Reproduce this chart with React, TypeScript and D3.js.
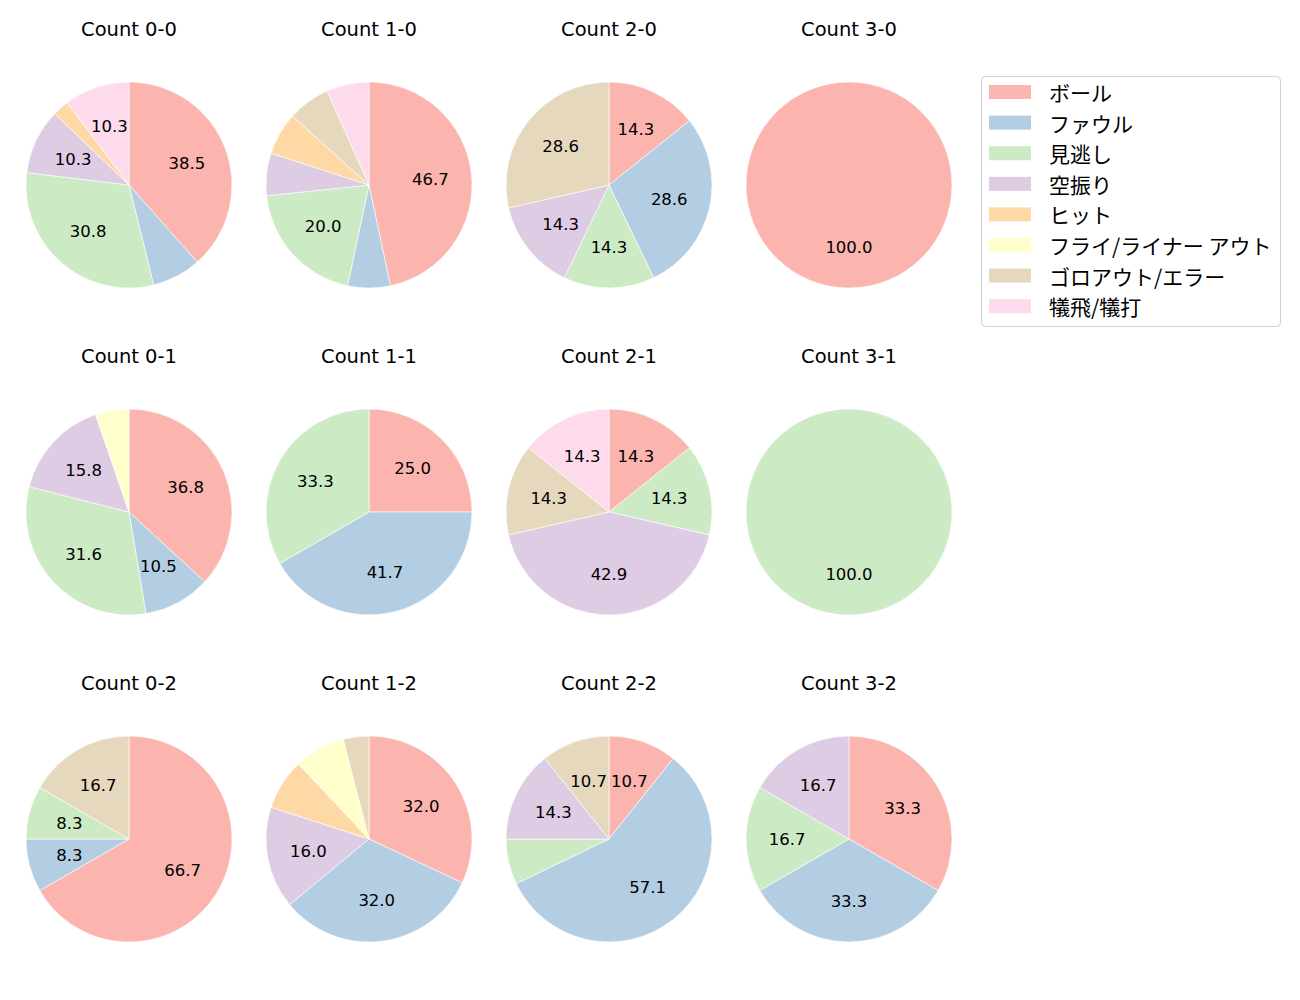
import React from "react";
import * as d3 from "d3";

const categories = ["ボール", "ファウル", "見逃し", "空振り", "ヒット", "フライ/ライナー アウト", "ゴロアウト/エラー", "犠飛/犠打"];
const colors = ["#fbb4ae", "#b3cde3", "#ccebc5", "#decbe4", "#fed9a6", "#ffffcc", "#e5d8bd", "#fddaec"];

const titles = [
  "Count 0-0", "Count 1-0", "Count 2-0", "Count 3-0",
  "Count 0-1", "Count 1-1", "Count 2-1", "Count 3-1",
  "Count 0-2", "Count 1-2", "Count 2-2", "Count 3-2",
];

// pitch counts per category (same order as categories)
const c00 = [15, 3, 12, 4, 1, 0, 0, 4];
const c10 = [7, 1, 3, 1, 1, 0, 1, 1];
const c20 = [1, 2, 1, 1, 0, 0, 2, 0];
const c30 = [1, 0, 0, 0, 0, 0, 0, 0];
const c01 = [7, 2, 6, 3, 0, 1, 0, 0];
const c11 = [3, 5, 4, 0, 0, 0, 0, 0];
const c21 = [1, 0, 1, 3, 0, 0, 1, 1];
const c31 = [0, 0, 1, 0, 0, 0, 0, 0];
const c02 = [8, 1, 1, 0, 0, 0, 2, 0];
const c12 = [8, 8, 0, 4, 2, 2, 1, 0];
const c22 = [3, 16, 2, 4, 0, 0, 3, 0];
const c32 = [2, 2, 1, 1, 0, 0, 0, 0];
const series = [c00, c10, c20, c30, c01, c11, c21, c31, c02, c12, c22, c32];

const LATIN = "'DejaVu Sans', 'Noto Sans CJK JP', sans-serif";
const CJK = "'Noto Sans CJK JP', 'DejaVu Sans', sans-serif";

export default function App() {
  const colX = d3.scaleLinear().domain([0, 3]).range([129, 849]);
  const rowY = d3.scaleLinear().domain([0, 2]).range([185, 839]);
  const r = 103;
  const arc = d3.arc<any>().innerRadius(0).outerRadius(r);
  const pie = d3.pie<number>().sort(null).value((d) => d).startAngle(0).endAngle(2 * Math.PI);

  return (
    <svg width={1300} height={1000} style={{ position: "absolute", left: 0, top: 0 }}>
      <rect width={1300} height={1000} fill="white" />
      {series.map((vals, i) => {
        const cx = colX(i % 4);
        const cy = rowY(Math.floor(i / 4));
        const total = d3.sum(vals);
        const arcs = pie(vals);
        return (
          <g key={i}>
            <text x={cx} y={cy - 149.3} textAnchor="middle" fontFamily={LATIN} fontSize={19.5} fill="#000">
              {titles[i]}
            </text>
            <g transform={`translate(${cx},${cy})`}>
              {arcs.map((a, j) =>
                a.value > 0 ? (
                  <path key={j} d={arc(a) as string} fill={colors[j]} stroke="white" strokeWidth={0.6} />
                ) : null
              )}
              {arcs.map((a, j) => {
                const pct = (a.value / total) * 100;
                if (!(pct > 8.05)) return null;
                const mid = (a.startAngle + a.endAngle) / 2;
                const lx = Math.sin(mid) * r * 0.6;
                const ly = -Math.cos(mid) * r * 0.6;
                return (
                  <text key={"t" + j} x={lx} y={ly + 6} textAnchor="middle" fontFamily={LATIN} fontSize={16.5} fill="#000">
                    {pct.toFixed(1)}
                  </text>
                );
              })}
            </g>
          </g>
        );
      })}
      <g>
        <rect x={981.5} y={76.5} width={299} height={250} rx={4} fill="white" stroke="#d0d0d0" strokeWidth={1} />
        {categories.map((c, j) => {
          const y = 92 + j * 30.6;
          return (
            <g key={c}>
              <rect x={989} y={y - 7} width={42} height={14} fill={colors[j]} />
              <text x={1049} y={y} dominantBaseline="central" fontFamily={CJK} fontSize={21} fill="#000">
                {c}
              </text>
            </g>
          );
        })}
      </g>
    </svg>
  );
}
